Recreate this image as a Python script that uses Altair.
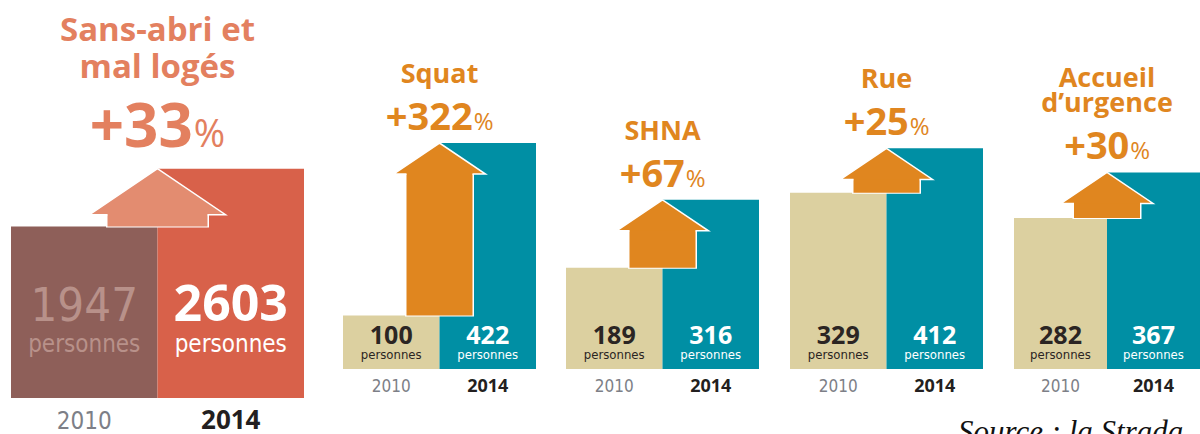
import altair as alt
import pandas as pd

# ---------------- data ----------------
YEARS = ["2010", "2014"]
TITLE_LINES = [["Sans-abri et", "mal logés"], ["Squat"], ["SHNA"], ["Rue"], ["Accueil", "d’urgence"]]
V2010 = [1947, 100, 189, 329, 282]
V2014 = [2603, 422, 316, 412, 367]
PCT = ["+33", "+322", "+67", "+25", "+30"]
UNIT = "personnes"
SOURCE = "Source : la Strada"

# ---------------- styles ----------------
BOLD = "Open Sans"
NARROW = "Liberation Sans Narrow, DejaVu Sans Condensed, Roboto, sans-serif"
YEAR_COL = ["#7d7f87", "#231f20"]

MAIN = dict(width=330, xr=[11, 304], base=398, dom=3000, k=0.0881,
            c=["#8e5f59", "#d8614a"], arrow="#e38c70", title="#e3805f",
            num_col=["#b8918a", "#ffffff"], num_font=[NARROW, BOLD], num_w=["normal", "bold"],
            num_size=[47, 50], num_dy=-77, unit_size=24, unit_dy=-46,
            year_size=[24, 26], year_dy=31,
            title_size=33, title_last=-91, title_gap=37,
            pct_size=60, pctsign_size=38, pct_dy=-22,
            shaft=100, head_w=136, head_h=46)
SMALL = dict(base=369, dom=500, k=0.5355,
             c=["#dcd0a0", "#008fa4"], arrow="#e0861f", title="#e0861f",
             num_col=["#2b2523", "#ffffff"], num_font=[BOLD, BOLD], num_w=["bold", "bold"],
             num_size=[25, 25], num_dy=-25, unit_size=13, unit_dy=-10,
             year_size=[17, 18], year_dy=23,
             title_size=27, title_last=-60, title_gap=25,
             pct_size=38, pctsign_size=24, pct_dy=-13,
             shaft=66, head_w=92, head_h=31)
GEOM = [MAIN,
        dict(SMALL, width=223, xr=[13, 206]),
        dict(SMALL, width=224, xr=[13, 206]),
        dict(SMALL, width=170, xr=[13, 206]),
        dict(SMALL, width=253, xr=[67, 253])]


def panel(i):
    g = GEOM[i]
    v10, v14 = V2010[i], V2014[i]
    xs = alt.Scale(domain=YEARS, range=g["xr"], paddingInner=0, paddingOuter=0)
    ys = alt.Scale(domain=[0, g["dom"]], range=[g["base"], g["base"] - g["dom"] * g["k"]],
                   nice=False, zero=True)
    bars_df = pd.DataFrame({"year": YEARS, "value": [v10, v14],
                            "label": [str(v10), str(v14)], "unit": [UNIT, UNIT]})
    arrow_df = pd.DataFrame({"year": ["2014"], "v2010": [v10], "v2014": [v14],
                             "pct": [PCT[i]], "sign": ["%"]})
    X = alt.X("year:N", scale=xs, axis=None)
    XB = alt.X("year:N", scale=xs, axis=None, bandPosition=0)

    layers = []
    # bars (one layer per year so colours stay local to the panel)
    for k in range(2):
        layers.append(alt.Chart(bars_df.iloc[[k]]).mark_bar(color=g["c"][k], opacity=1).encode(
            x=X, y=alt.Y("value:Q", scale=ys, axis=None)))
    # arrow shaft (white outline + fill)
    hh = g["head_h"]
    layers.append(alt.Chart(arrow_df).mark_rule(color="white", strokeWidth=g["shaft"] + 3,
                                                strokeCap="butt", y2Offset=hh - 1, yOffset=1).encode(
        x=XB, y=alt.Y("v2010:Q", scale=ys, axis=None), y2="v2014:Q"))
    layers.append(alt.Chart(arrow_df).mark_rule(color=g["arrow"], strokeWidth=g["shaft"],
                                                strokeCap="butt", y2Offset=hh - 1).encode(
        x=XB, y=alt.Y("v2010:Q", scale=ys, axis=None), y2="v2014:Q"))
    # arrow head
    r = hh / (g["head_w"] / 2)
    s = g["shaft"] / g["head_w"]
    path = f"M{-s:.3f},{r:.3f}L-1,{r:.3f}L0,0L1,{r:.3f}L{s:.3f},{r:.3f}"
    layers.append(alt.Chart(arrow_df).mark_point(shape=path, size=g["head_w"] ** 2, filled=True,
                                                 fill=g["arrow"], stroke="white", strokeWidth=1.5,
                                                 opacity=1).encode(
        x=XB, y=alt.Y("v2014:Q", scale=ys, axis=None)))
    # title lines
    lines = TITLE_LINES[i]
    n = len(lines)
    for j, line in enumerate(lines):
        df = pd.DataFrame({"year": ["2014"], "v2014": [v14], "t": [line]})
        layers.append(alt.Chart(df).mark_text(font=BOLD, fontWeight="bold", fontSize=g["title_size"],
                                              color=g["title"], align="center", baseline="alphabetic",
                                              dy=g["title_last"] - (n - 1 - j) * g["title_gap"]).encode(
            x=XB, y=alt.Y("v2014:Q", scale=ys, axis=None), text="t:N"))
    # percentage: number + smaller % sign, centred together
    wn = len(PCT[i]) * 0.572 * g["pct_size"]
    wp = 0.855 * g["pctsign_size"]
    dxn = (wn - wp) / 2
    layers.append(alt.Chart(arrow_df).mark_text(font=BOLD, fontWeight="bold", fontSize=g["pct_size"],
                                                color=g["title"], align="right", baseline="alphabetic",
                                                dx=dxn, dy=g["pct_dy"]).encode(
        x=XB, y=alt.Y("v2014:Q", scale=ys, axis=None), text="pct:N"))
    layers.append(alt.Chart(arrow_df).mark_text(font=BOLD, fontWeight="normal", fontSize=g["pctsign_size"],
                                                color=g["title"], align="left", baseline="alphabetic",
                                                dx=dxn + 1, dy=g["pct_dy"]).encode(
        x=XB, y=alt.Y("v2014:Q", scale=ys, axis=None), text="sign:N"))
    # numbers, unit, year labels
    for k in range(2):
        df = bars_df.iloc[[k]]
        layers.append(alt.Chart(df).mark_text(font=g["num_font"][k], fontWeight=g["num_w"][k],
                                              fontSize=g["num_size"][k], color=g["num_col"][k],
                                              baseline="alphabetic", dy=g["num_dy"]).encode(
            x=X, y=alt.datum(0, scale=ys), text="label:N"))
        layers.append(alt.Chart(df).mark_text(font=NARROW, fontSize=g["unit_size"], color=g["num_col"][k],
                                              baseline="alphabetic", dy=g["unit_dy"]).encode(
            x=X, y=alt.datum(0, scale=ys), text="unit:N"))
        layers.append(alt.Chart(df).mark_text(font=(NARROW if k == 0 else BOLD),
                                              fontWeight=("normal" if k == 0 else "bold"),
                                              fontSize=g["year_size"][k], color=YEAR_COL[k],
                                              baseline="alphabetic", dy=g["year_dy"]).encode(
            x=X, y=alt.datum(0, scale=ys), text="year:N"))
    if i == len(GEOM) - 1:
        sdf = pd.DataFrame({"year": ["2010"], "src": [SOURCE]})
        layers.append(alt.Chart(sdf).mark_text(font="Liberation Serif", fontStyle="italic", fontSize=31,
                                               color="#111111", align="left", baseline="alphabetic",
                                               dx=-56, dy=73, clip=True).encode(
            x=XB, y=alt.datum(0, scale=ys), text="src:N"))
    return alt.layer(*layers).properties(width=g["width"], height=434)


chart = alt.hconcat(*[panel(i) for i in range(len(GEOM))], spacing=0, bounds="flush").properties(
    padding=0, background="white"
).configure_view(stroke=None)

chart.save("out.html", embed_options={"renderer": "svg", "actions": False})
